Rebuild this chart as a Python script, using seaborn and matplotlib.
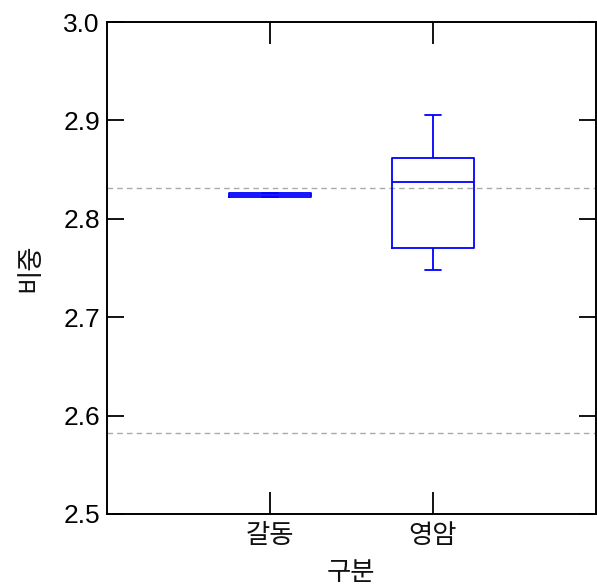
import pandas as pd
import matplotlib
matplotlib.use('Agg')
import matplotlib.pyplot as plt
import seaborn as sns

# data
groups = ['갈동', '영암']
galdong_vals = [2.822, 2.822, 2.824, 2.826, 2.826]
yeongam_vals = [2.748, 2.770, 2.837, 2.862, 2.906]
ref_lines = [2.831, 2.582]
y_ticks = [2.5, 2.6, 2.7, 2.8, 2.9, 3.0]

df = pd.DataFrame({
    '구분': [groups[0]] * len(galdong_vals) + [groups[1]] * len(yeongam_vals),
    '비중': galdong_vals + yeongam_vals,
})

sns.set_style('white')
plt.rcParams['font.family'] = ['Noto Sans CJK KR', 'DejaVu Sans']

fig = plt.figure(figsize=(5.97, 5.87), dpi=100)
ax = fig.add_axes([0.179, 0.1244, 0.819, 0.838])

for yv in ref_lines:
    ax.axhline(yv, color='#aaaaaa', linestyle=(0, (4, 3)), linewidth=1.0, zorder=0)

sns.boxplot(data=df, x='구분', y='비중', order=groups, ax=ax,
            fill=False, color='#0000ff', width=0.5, linewidth=1.3,
            whis=10, capwidths=0.1, showfliers=False)

ax.set_xlim(-1, 2)
ax.set_ylim(2.5, 3.0)
ax.set_yticks(y_ticks)
ax.set_yticklabels([f'{v:.1f}' for v in y_ticks], fontsize=19,
                   family=['Liberation Sans'], color='black')
ax.set_xticks(range(len(groups)))
ax.set_xticklabels(groups, fontsize=19, color='#111111')
ax.tick_params(axis='both', direction='in', length=12, width=1.3, color='black',
               top=True, right=True, bottom=True, left=True)
ax.tick_params(axis='x', length=16, pad=6)
ax.tick_params(axis='y', pad=5)
ax.set_xlabel('구분', fontsize=19, labelpad=7, color='#111111')
ax.set_ylabel('비중', fontsize=19, labelpad=14, color='#111111')

for s in ax.spines.values():
    s.set_color('black')
    s.set_linewidth(1.4)

fig.savefig('out.png', dpi=100)
